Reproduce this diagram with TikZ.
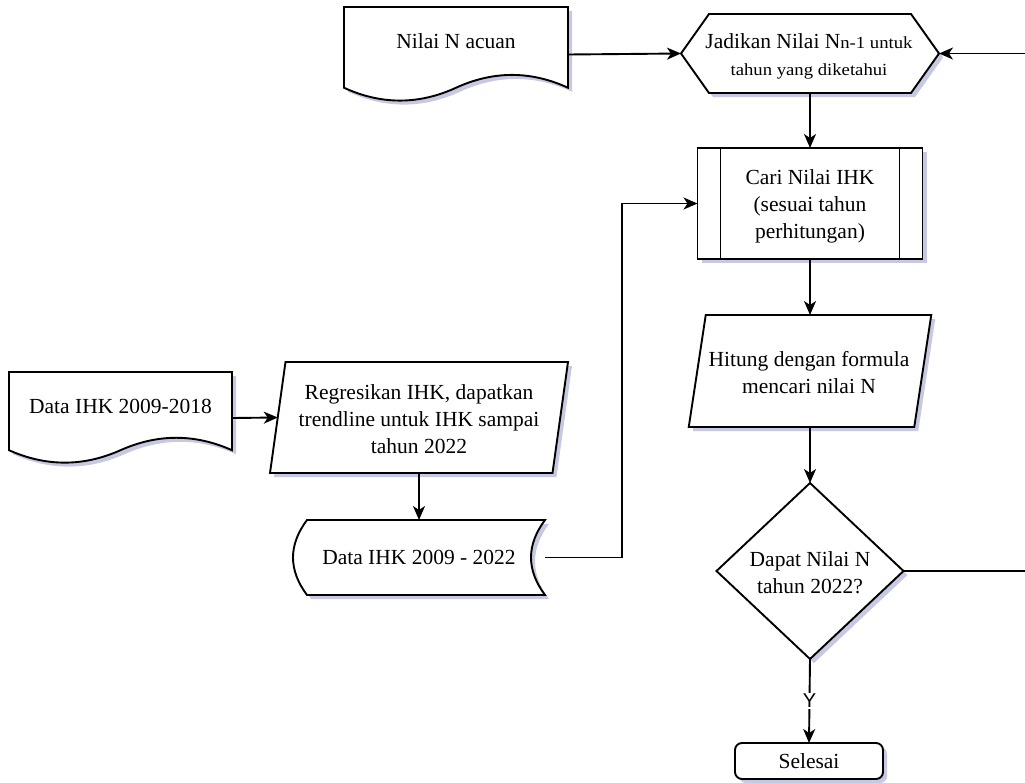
\documentclass[tikz,border=0pt]{standalone}
\usepackage{fontspec}
\setmainfont{Liberation Serif}
\newfontfamily\smallf[FakeStretch=1.1]{Liberation Serif}
\newfontfamily\labelf{Liberation Sans}
\usetikzlibrary{arrows.meta,calc}
\definecolor{shadowc}{RGB}{160,165,205}
\tikzset{
  shp/.style={draw=black, line width=1.9pt, fill=white, line join=miter,
    preaction={fill=shadowc, fill opacity=0.6, transform canvas={shift={(4pt,-4pt)}}}},
  anchorbox/.style={draw=none, inner sep=0pt, outer sep=0pt, rectangle},
  txt/.style={align=center, inner sep=0pt, font=\fontsize{21.5}{27}\selectfont},
  smalltxt/.style={inner sep=0pt, font=\smallf\fontsize{17}{20}\selectfont},
  conn/.style={line width=1.9pt, draw=black},
  arr/.style={conn, -{Stealth[length=14pt,width=12pt,inset=4pt]}},
  ylabel/.style={fill=white, inner sep=1.5pt, font=\labelf\fontsize{20}{22}\selectfont},
}
\begin{document}
\begin{tikzpicture}[x=1pt,y=-1pt]
\useasboundingbox (0,0) rectangle (1025,782);

% ---------- Nilai N acuan (document) ----------
\node[anchorbox, minimum width=224pt, minimum height=95pt] (acuan) at (456,54.5) {};
\draw[shp] (344,7) -- (568,7) -- (568,87.75)
  .. controls (530.67,70.65) and (493.33,70.65) .. (456,87.75)
  .. controls (418.67,104.85) and (381.33,104.85) .. (344,87.75) -- cycle;
\node[txt] at (456,41) {Nilai N acuan};

% ---------- Hexagon ----------
\node[anchorbox, minimum width=258pt, minimum height=79pt] (hex) at (810,53.5) {};
\draw[shp] (hex.west) -- ($(hex.north west)+(28,0)$) -- ($(hex.north east)+(-28,0)$)
  -- (hex.east) -- ($(hex.south east)+(-28,0)$) -- ($(hex.south west)+(28,0)$) -- cycle;
\node[txt, anchor=base] at (809,48) {Jadikan Nilai N{\smallf\fontsize{17}{20}\selectfont n-1 untuk}};
\node[smalltxt, anchor=base] at (809,75) {tahun yang diketahui};

% ---------- Subroutine ----------
\node[anchorbox, minimum width=225pt, minimum height=111pt] (sub) at (810,203.5) {};
\draw[shp] (sub.south west) rectangle (sub.north east);
\draw[conn] ($(sub.north west)+(23,0)$) -- ($(sub.south west)+(23,0)$);
\draw[conn] ($(sub.north east)+(-23,0)$) -- ($(sub.south east)+(-23,0)$);
\node[txt] at (810,206) {Cari Nilai IHK\\(sesuai tahun\\perhitungan)};

% ---------- Hitung (parallelogram) ----------
\node[anchorbox, minimum width=225.5pt, minimum height=112pt] (hit) at (810,371) {};
\draw[shp] ($(hit.south west)+(-8.5,0)$) -- ($(hit.north west)+(8.5,0)$)
  -- ($(hit.north east)+(8.5,0)$) -- ($(hit.south east)+(-8.5,0)$) -- cycle;
\node[txt] at (809,373) {Hitung dengan formula\\mencari nilai N};

% ---------- Decision ----------
\node[anchorbox, minimum width=187pt, minimum height=176pt] (dia) at (810,571) {};
\draw[shp] (dia.north) -- (dia.east) -- (dia.south) -- (dia.west) -- cycle;
\node[txt] at (810,573) {Dapat Nilai N\\tahun 2022?};

% ---------- Selesai ----------
\node[anchorbox, minimum width=148pt, minimum height=36pt] (sel) at (809,761) {};
\draw[shp, rounded corners=7pt] (sel.south west) rectangle (sel.north east);
\node[txt] at (809,761) {Selesai};

% ---------- Data IHK 2009-2018 (document) ----------
\node[anchorbox, minimum width=223pt, minimum height=92pt] (doc1) at (120.5,418) {};
\draw[shp] (9,372) -- (232,372) -- (232,450.2)
  .. controls (194.83,433.64) and (157.67,433.64) .. (120.5,450.2)
  .. controls (83.33,466.76) and (46.17,466.76) .. (9,450.2) -- cycle;
\node[txt] at (120.5,406) {Data IHK 2009-2018};

% ---------- Regresikan (parallelogram) ----------
\node[anchorbox, minimum width=282.5pt, minimum height=111pt] (reg) at (419,417.5) {};
\draw[shp] ($(reg.south west)+(-7.75,0)$) -- ($(reg.north west)+(7.75,0)$)
  -- ($(reg.north east)+(7.75,0)$) -- ($(reg.south east)+(-7.75,0)$) -- cycle;
\node[txt] at (419,419) {Regresikan IHK, dapatkan\\trendline untuk IHK sampai\\tahun 2022};

% ---------- Data store ----------
\node[anchorbox, minimum width=252pt, minimum height=75pt] (store) at (419,557.5) {};
\draw[shp] (307,520) -- (545,520)
  .. controls (526.33,545) and (526.33,570) .. (545,595) -- (307,595)
  .. controls (288.33,570) and (288.33,545) .. (307,520) -- cycle;
\node[txt] at (419,557) {Data IHK 2009 - 2022};

% ---------- Connectors ----------
\coordinate (rin) at (1025,53.5);
\coordinate (rout) at (1025,571);
\draw[arr] (acuan.east) -- (hex.west);
\draw[arr] (rin) -- (hex.east);
\draw[arr] (hex.south) -- (sub.north);
\draw[arr] (store.east) -- ++(77,0) |- (sub.west);
\draw[arr] (sub.south) -- (hit.north);
\draw[arr] (hit.south) -- (dia.north);
\draw[conn] (dia.east) -- (rout);
\draw[arr] (dia.south) -- node[ylabel] {Y} (sel.north);
\draw[arr] (doc1.east) -- (reg.west);
\draw[arr] (reg.south) -- (store.north);
\end{tikzpicture}
\end{document}
